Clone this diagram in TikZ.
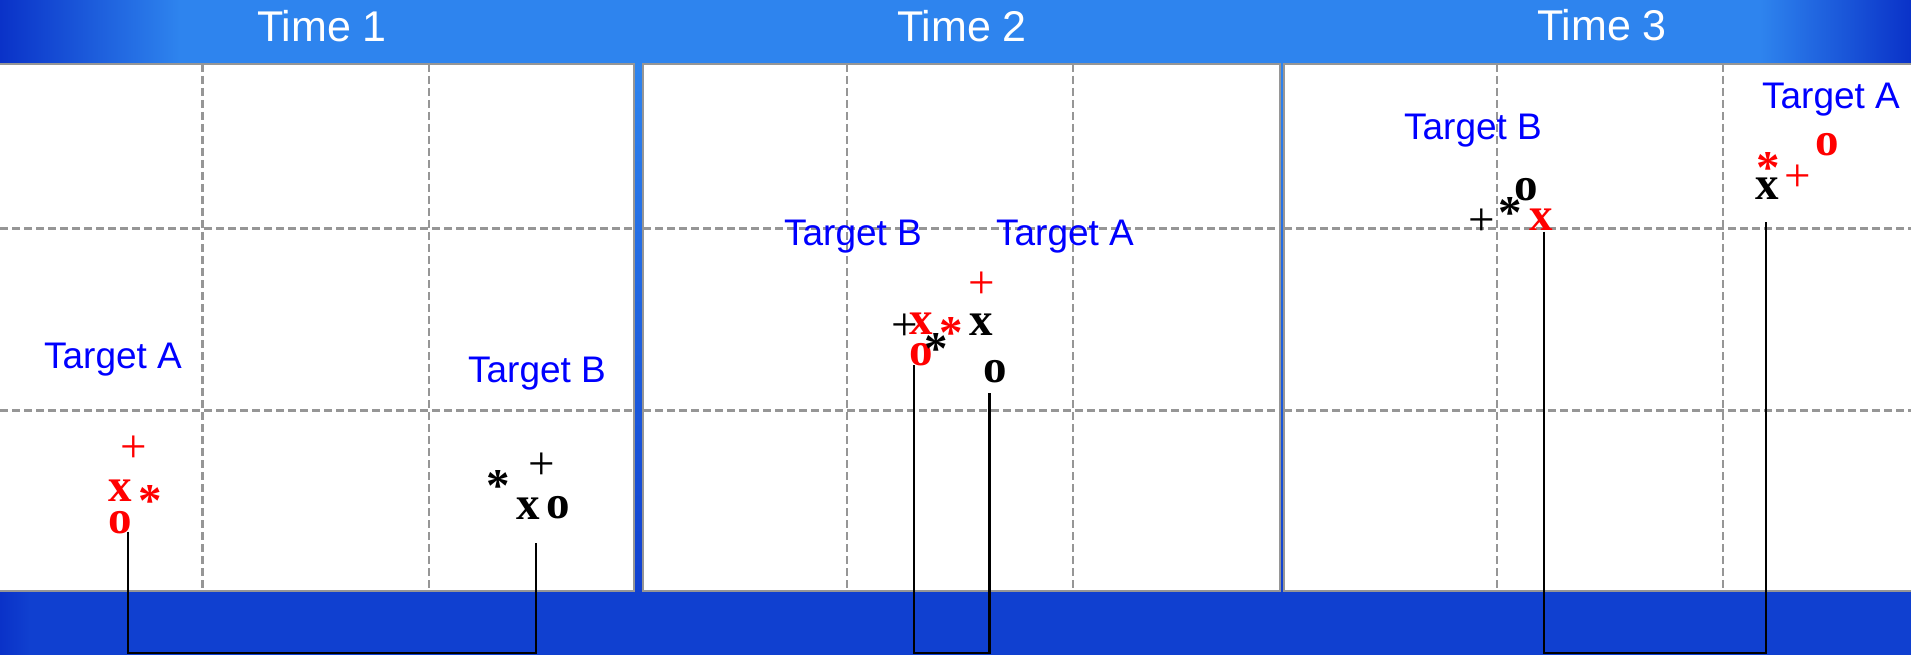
\documentclass[tikz,border=0pt]{standalone}
\usepackage{fontspec}
\setmainfont{Liberation Serif}
\newfontfamily\sansfam{Liberation Sans}
\definecolor{topblue}{RGB}{46,132,238}
\definecolor{darkblue}{RGB}{10,50,200}
\definecolor{botblue}{RGB}{16,64,208}
\definecolor{gridgray}{RGB}{150,150,150}
\definecolor{tblue}{RGB}{0,0,255}
\definecolor{mred}{RGB}{255,0,0}
\begin{document}
\begin{tikzpicture}[x=1pt,y=-1pt,
  panelbox/.style={fill=white,draw=gridgray,line width=2.2pt},
  gridline/.style={draw=gridgray,line width=2.2pt,dash pattern=on 8pt off 4pt},
  titletext/.style={font=\sansfam\fontsize{43}{50}\selectfont,text=white,anchor=base,inner sep=0pt},
  targettext/.style={font=\sansfam\fontsize{37}{44}\selectfont,text=tblue,anchor=base,inner sep=0pt},
  mkplus/.style={font=\fontsize{47}{55}\selectfont,inner sep=0pt,anchor=center,yshift=-3.5pt},
  mkstar/.style={font=\fontsize{47}{55}\selectfont\bfseries,inner sep=0pt,anchor=center,yshift=-5pt},
  mkbold/.style={font=\fontsize{47}{55}\selectfont\bfseries,inner sep=0pt,anchor=center},
  redmk/.style={text=mred},
  blackmk/.style={text=black},
  bracket/.style={draw=black,line width=2.2pt}
]
\useasboundingbox (0,0) rectangle (1911,655);
% background
\fill[botblue] (0,0) rectangle (1911,655);
\shade[left color=darkblue,right color=topblue] (0,0) rectangle (180,64);
\fill[topblue] (179,0) rectangle (1761,64);
\shade[left color=topblue,right color=darkblue] (1760,0) rectangle (1911,64);
\shade[top color=topblue,bottom color=botblue] (0,64) rectangle (1911,592);
\shade[left color=darkblue,right color=botblue] (0,592) rectangle (30,655);
% titles
\node[titletext] (t1) at (322,42) {Time 1};
\node[titletext] (t2) at (962,42) {Time 2};
\node[titletext] (t3) at (1602,41) {Time 3};
% panels
\draw[panelbox] (-3,64) rectangle (634,591);
\draw[panelbox] (643,64) rectangle (1280,591);
\draw[panelbox] (1284,64) rectangle (1915,591);
% grids
\foreach \a/\b in {0/634,643/1280,1284/1911}{
  \draw[gridline] (\a,228.5) -- (\b,228.5);
  \draw[gridline] (\a,410.5) -- (\b,410.5);
}
\foreach \v in {202.5,429,847,1073,1497,1723}{
  \draw[gridline] (\v,64) -- (\v,590);
}
% target labels
\node[targettext] (p1ta) at (113,368) {Target A};
\node[targettext] (p1tb) at (537,382) {Target B};
\node[targettext] (p2tb) at (853,245) {Target B};
\node[targettext] (p2ta) at (1065,245) {Target A};
\node[targettext] (p3tb) at (1473,140) {Target B};
\node[targettext] (p3ta) at (1831,109) {Target A};
% panel 1 markers
\node[mkplus,redmk] (p1rp) at (133.3,445.7) {+};
\node[mkbold,redmk] (p1rx) at (120,491) {x};
\node[mkstar,redmk] (p1rs) at (150.3,495.8) {*};
\node[mkbold,redmk] (p1ro) at (120,522.5) {o};
\node[mkplus,blackmk] (p1kp) at (541.7,462.5) {+};
\node[mkstar,blackmk] (p1ks) at (498.3,480.8) {*};
\node[mkbold,blackmk] (p1kx) at (528.3,508.3) {x};
\node[mkbold,blackmk] (p1ko) at (558.3,507.5) {o};
% panel 2 markers
\node[mkplus,blackmk] (p2kp) at (905,324) {+};
\node[mkbold,redmk] (p2rx) at (921.7,324) {x};
\node[mkstar,redmk] (p2rs) at (951.7,328.3) {*};
\node[mkbold,redmk] (p2ro) at (921.7,355) {o};
\node[mkstar,blackmk] (p2ks) at (936,344) {*};
\node[mkbold,blackmk] (p2kx) at (981.7,325) {x};
\node[mkbold,blackmk] (p2ko) at (995.7,371.7) {o};
\node[mkplus,redmk] (p2rp) at (981.7,281.7) {+};
% panel 3 markers
\node[mkplus,blackmk] (p3kp) at (1481.7,218.3) {+};
\node[mkstar,blackmk] (p3ks) at (1510,208.3) {*};
\node[mkbold,blackmk] (p3ko) at (1526,190) {o};
\node[mkbold,redmk] (p3rx) at (1541.7,220) {x};
\node[mkstar,redmk] (p3rs) at (1768.3,163.3) {*};
\node[mkplus,redmk] (p3rp) at (1797.7,174.3) {+};
\node[mkbold,redmk] (p3ro) at (1827.7,145) {o};
\node[mkbold,blackmk] (p3kx) at (1767.7,188.3) {x};
% bracket end points
\coordinate (b1l) at (128.3,531.7);
\coordinate (b1r) at (535.7,543.3);
\coordinate (b2l) at (914,365);
\coordinate (b2r) at (989.5,393.3);
\coordinate (b3l) at (1544,231.7);
\coordinate (b3r) at (1765.7,221.7);
\coordinate (bot) at (0,653.3);
\draw[bracket] (b1l) -- (b1l |- bot) -- (b1r |- bot) -- (b1r);
\draw[bracket] (b2l) -- (b2l |- bot) -- (b2r |- bot) -- (b2r);
\draw[bracket] (b3l) -- (b3l |- bot) -- (b3r |- bot) -- (b3r);
\end{tikzpicture}
\end{document}
